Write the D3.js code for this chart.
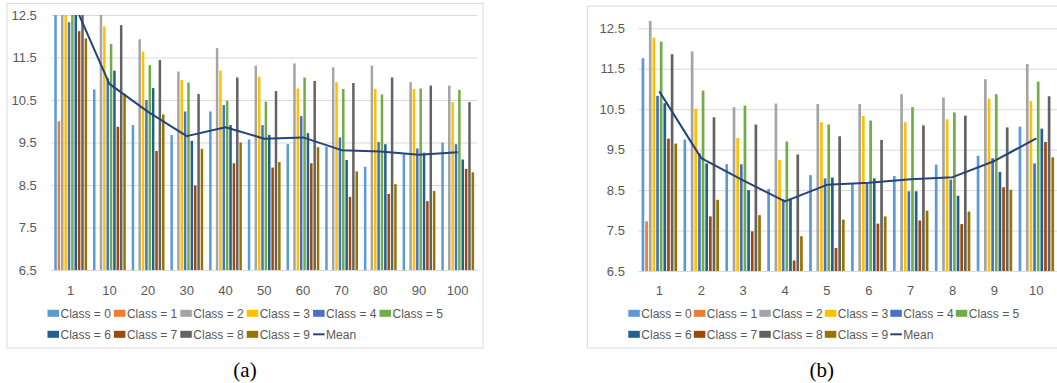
<!DOCTYPE html>
<html>
<head>
<meta charset="utf-8">
<script src="https://cdn.jsdelivr.net/npm/d3@7"></script>
<style>
  html, body { margin: 0; padding: 0; background: #ffffff; }
  svg { display: block; }
</style>
</head>
<body>
<svg id="chart" width="1057" height="383"></svg>
<script>
// ---------------- DATA ----------------
const classNames = ["Class = 0","Class = 1","Class = 2","Class = 3","Class = 4",
                    "Class = 5","Class = 6","Class = 7","Class = 8","Class = 9"];
const classColors = ["#5B9BD5","#ED7D31","#A5A5A5","#FFC000","#4472C4",
                     "#70AD47","#255E91","#9E480E","#636363","#997300"];
const meanColor = "#264478";
const yTicks = [6.5, 7.5, 8.5, 9.5, 10.5, 11.5, 12.5];

// Panel (a)
const categoriesA = ["1","10","20","30","40","50","60","70","80","90","100"];
const a_class0 = [13.4, 10.75, 9.91, 9.68, 10.23, 9.57, 9.46, 9.40, 8.93, 9.22, 9.50];
const a_class1 = [10.0, 6.4, 5.3, 5.5, 5.8, 6.0, 6.0, 6.1, 6.2, 6.2, 6.3];
const a_class2 = [14.5, 12.6, 11.93, 11.17, 11.72, 11.31, 11.36, 11.27, 11.31, 10.92, 10.84];
const a_class3 = [13.9, 12.23, 11.64, 10.97, 11.19, 11.05, 10.77, 10.92, 10.76, 10.76, 10.45];
const a_class4 = [12.33, 11.01, 10.50, 10.23, 10.38, 9.91, 10.12, 9.62, 9.51, 9.36, 9.46];
const a_class5 = [13.8, 11.82, 11.32, 10.91, 10.48, 10.46, 11.03, 10.76, 10.63, 10.77, 10.74];
const a_class6 = [13.6, 11.19, 10.78, 9.54, 9.91, 9.68, 9.72, 9.09, 9.46, 9.26, 9.10];
const a_class7 = [12.12, 9.87, 9.30, 8.49, 9.01, 8.91, 9.01, 8.22, 8.29, 8.12, 8.88];
const a_class8 = [13.9, 12.26, 11.44, 10.64, 11.03, 10.71, 10.95, 10.90, 11.03, 10.84, 10.45];
const a_class9 = [11.95, 10.65, 10.16, 9.35, 9.50, 9.04, 9.39, 8.82, 8.52, 8.36, 8.80];
const a_mean   = [12.95, 10.88, 10.22, 9.65, 9.86, 9.59, 9.62, 9.32, 9.29, 9.21, 9.27];

// Panel (b)
const categoriesB = ["1","2","3","4","5","6","7","8","9","10"];
const b_class0 = [11.76, 9.75, 9.14, 8.53, 8.87, 8.67, 8.85, 9.13, 9.35, 10.07];
const b_class1 = [7.73, 4.8, 5.2, 5.0, 5.3, 5.4, 5.5, 5.6, 5.8, 6.0];
const b_class2 = [12.68, 11.93, 10.55, 10.64, 10.63, 10.63, 10.87, 10.79, 11.24, 11.62];
const b_class3 = [12.27, 10.51, 9.79, 9.24, 10.18, 10.33, 10.18, 10.25, 10.76, 10.70];
const b_class4 = [10.83, 9.41, 9.14, 8.27, 8.79, 8.67, 8.47, 8.76, 9.29, 9.16];
const b_class5 = [12.17, 10.96, 10.59, 9.70, 10.12, 10.22, 10.55, 10.42, 10.87, 11.18];
const b_class6 = [10.65, 9.16, 8.50, 8.29, 8.81, 8.79, 8.47, 8.36, 8.95, 10.02];
const b_class7 = [9.77, 7.85, 7.48, 6.76, 7.07, 7.67, 7.75, 7.66, 8.57, 9.69];
const b_class8 = [11.86, 10.30, 10.12, 9.38, 9.83, 9.74, 10.10, 10.34, 10.05, 10.82];
const b_class9 = [9.65, 8.26, 7.88, 7.36, 7.77, 7.85, 7.99, 7.97, 8.51, 9.31];
const b_mean   = [10.94, 9.29, 8.74, 8.22, 8.63, 8.68, 8.77, 8.82, 9.22, 9.78];

const seriesA = [a_class0,a_class1,a_class2,a_class3,a_class4,a_class5,a_class6,a_class7,a_class8,a_class9];
const seriesB = [b_class0,b_class1,b_class2,b_class3,b_class4,b_class5,b_class6,b_class7,b_class8,b_class9];

// ---------------- DRAW ----------------
const svg = d3.select("#chart");
const textColor = "#595959";
const gridColor = "#d9d9d9";
const fontFam = "'Liberation Sans', Arial, sans-serif";

function drawPanel(cfg) {
  const g = svg.append("g");
  // outer chart border
  const b = cfg.border;
  g.append("rect").attr("x", b.x).attr("y", b.y).attr("width", b.w).attr("height", b.h)
    .attr("fill", "none").attr("stroke", gridColor).attr("stroke-width", 1);

  const y = d3.scaleLinear().domain([6.5, 12.5]).range([cfg.bottom, cfg.top]);
  const x0 = d3.scaleBand().domain(cfg.categories).range([cfg.left, cfg.right])
    .paddingInner(0.13).paddingOuter(0.065);
  const x1 = d3.scaleBand().domain(d3.range(10)).range([0, x0.bandwidth()])
    .paddingInner(0.26).paddingOuter(0.13);

  // gridlines + y labels
  const yAxis = d3.axisLeft(y).tickValues(yTicks).tickFormat(d3.format(".1f"))
    .tickSize(-(cfg.right - cfg.left)).tickPadding(cfg.yPad);
  const ya = g.append("g").attr("transform", `translate(${cfg.left},0)`).call(yAxis);
  ya.select(".domain").remove();
  ya.selectAll("line").attr("stroke", gridColor).attr("stroke-width", 1);
  ya.selectAll("text").attr("fill", textColor).style("font-family", fontFam).style("font-size", "13px");

  // x labels
  const xAxis = d3.axisBottom(x0).tickSize(0).tickPadding(cfg.xPad);
  const xa = g.append("g").attr("transform", `translate(0,${cfg.bottom})`).call(xAxis);
  xa.select(".domain").attr("stroke", gridColor);
  xa.selectAll("text").attr("fill", textColor).style("font-family", fontFam).style("font-size", "13px");

  // clip
  const clipId = "clip-" + cfg.id;
  svg.append("defs").append("clipPath").attr("id", clipId)
    .append("rect").attr("x", cfg.left).attr("y", cfg.clipTop)
    .attr("width", cfg.right - cfg.left).attr("height", cfg.bottom - cfg.clipTop);

  const plot = g.append("g").attr("clip-path", `url(#${clipId})`);
  cfg.series.forEach((vals, ci) => {
    plot.append("g").selectAll("rect")
      .data(vals.map((v, i) => ({ v, cat: cfg.categories[i] })).filter(d => d.v > 6.5))
      .join("rect")
      .attr("x", d => x0(d.cat) + x1(ci))
      .attr("width", x1.bandwidth())
      .attr("y", d => y(Math.min(d.v, 14)))
      .attr("height", d => y(6.5) - y(Math.min(d.v, 14)))
      .attr("fill", classColors[ci]);
  });

  const line = d3.line()
    .x((d, i) => x0(cfg.categories[i]) + x0.bandwidth() / 2)
    .y(d => y(d));
  plot.append("path").datum(cfg.mean).attr("d", line)
    .attr("fill", "none").attr("stroke", meanColor).attr("stroke-width", 2)
    .attr("stroke-linejoin", "round");

  // legend
  const leg = g.append("g").style("font-family", fontFam).style("font-size", "12px");
  const items = classNames.map((n, i) => ({ name: n, color: classColors[i], type: "rect" }))
    .concat([{ name: "Mean", color: meanColor, type: "line" }]);
  items.forEach((it, i) => {
    const row = i < 6 ? 0 : 1;
    const col = i < 6 ? i : i - 6;
    const lx = cfg.legendX + col * cfg.legendStep;
    const ly = row === 0 ? cfg.legendY1 : cfg.legendY2;
    if (it.type === "rect") {
      leg.append("rect").attr("x", lx).attr("y", ly - 3.5).attr("width", 11.5).attr("height", 7)
        .attr("fill", it.color);
    } else {
      leg.append("line").attr("x1", lx).attr("x2", lx + 11.5).attr("y1", ly).attr("y2", ly)
        .attr("stroke", it.color).attr("stroke-width", 2);
    }
    leg.append("text").attr("x", lx + 13).attr("y", ly).attr("dy", "0.35em")
      .attr("fill", textColor).text(it.name);
  });

  // caption
  g.append("text").attr("x", cfg.captionX).attr("y", 377).attr("text-anchor", "middle")
    .style("font-family", "'Liberation Serif', 'Times New Roman', serif").style("font-size", "21px")
    .attr("fill", "#000").text(cfg.caption);
}

drawPanel({
  id: "a", categories: categoriesA, series: seriesA, mean: a_mean,
  left: 51.35, right: 477.05, top: 15, bottom: 270, clipTop: 15, yPad: 14.5, xPad: 15.5,
  border: { x: 7, y: 3.3, w: 476, h: 344.7 },
  legendX: 47.5, legendStep: 66.4, legendY1: 313.3, legendY2: 334.3,
  captionX: 245, caption: "(a)"
});

drawPanel({
  id: "b", categories: categoriesB, series: seriesB, mean: b_mean,
  left: 638.4, right: 1057.3, top: 28.3, bottom: 271, clipTop: 8, yPad: 13.5, xPad: 14.5,
  border: { x: 587.3, y: 6, w: 480, h: 342 },
  legendX: 628.3, legendStep: 65.5, legendY1: 313.3, legendY2: 334.3,
  captionX: 821.7, caption: "(b)"
});
</script>
</body>
</html>
